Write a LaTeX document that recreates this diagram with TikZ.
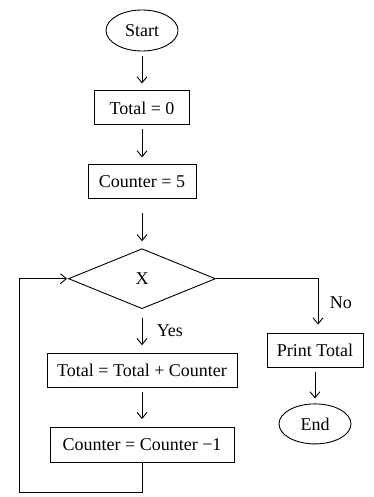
\documentclass[tikz,border=0pt]{standalone}
\usepackage{fontspec}
\setmainfont{Liberation Serif}
\usetikzlibrary{arrows.meta, positioning, shapes.geometric}

\begin{document}
\begin{tikzpicture}[line width=0.9pt, every node/.style={font=\fontsize{18}{20}\selectfont},
  box/.style={draw, minimum height=34pt, inner sep=2pt},
  term/.style={draw, ellipse, minimum width=72pt, minimum height=41pt, inner sep=0pt},
  flow/.style={-{Straight Barb[length=6pt, width=10pt]}, shorten <=5pt, shorten >=7pt}]
\useasboundingbox (0,0) rectangle (374pt,-497pt);
\node[term] (start) at (142pt,-30.5pt) {Start};
\node[box, minimum width=95pt, below=39pt of start] (total) {Total = 0};
\node[box, minimum width=108pt, below=39pt of total] (count) {Counter = 5};
\node[draw, diamond, minimum width=147pt, minimum height=60pt, inner sep=0pt, below=49pt of count] (test) {X};
\node[box, minimum width=190pt, below=44pt of test] (add) {Total = Total + Counter};
\node[box, minimum width=184pt, minimum height=35pt, below=39pt of add] (dec) {Counter = Counter −1};
\node[box, minimum width=96pt] (print) at (315pt,-350pt) {Print Total};
\node[term, minimum height=40pt, below=36pt of print] (end) {End};
\coordinate[left=49pt of test.west] (back);
\draw[flow] (start) -- (total);
\draw[flow, shorten <=4pt] (total) -- (count);
\draw[flow, shorten <=14pt] (count) -- (test);
\draw[flow, shorten <=9pt, shorten >=8pt] (test) -- node[right=11pt] {Yes} (add);
\draw[flow, shorten <=4pt, shorten >=8pt] (add) -- (dec);
\draw[flow, shorten <=0pt, shorten >=8pt] (test.east) -| node[pos=0.72, right=8pt] {No} ([xshift=3pt]print.north);
\draw[flow, shorten >=5pt] (print) -- (end);
\draw[flow, shorten <=0pt, shorten >=1pt] (dec.south) -- ++(0pt,-29pt) -| (back) -- (test.west);
\end{tikzpicture}
\end{document}
